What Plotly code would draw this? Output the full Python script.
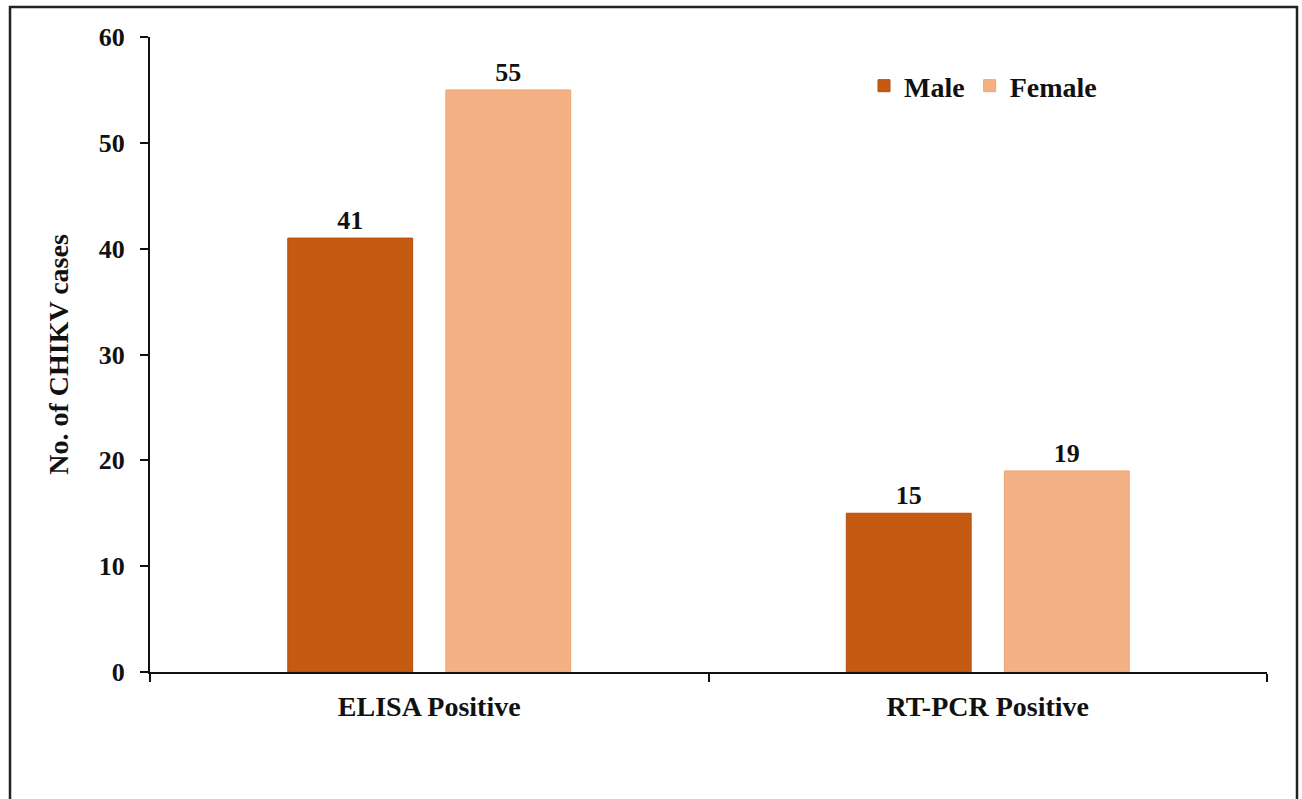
import plotly.graph_objects as go

categories = ["ELISA Positive", "RT-PCR Positive"]
male = [41, 15]
female = [55, 19]
y_ticks = [0, 10, 20, 30, 40, 50, 60]

INK = "#111111"
FAMILY = "Liberation Serif"


def serif(size):
    return dict(family=FAMILY, size=size, color=INK, weight=700)


W, H = 1302, 799
L, R, T, B = 150, 35, 37, 127
pw, ph = W - L - R, H - T - B


def px_x(x):
    return (x - L) / pw


def px_y(y):
    return (H - B - y) / ph


fig = go.Figure()
fig.add_trace(go.Bar(
    name="Male", x=categories, y=male,
    marker=dict(color="#C55A11", line=dict(color="#B24E0C", width=1)),
    text=male, textposition="outside", cliponaxis=False,
    textfont=serif(26),
))
fig.add_trace(go.Bar(
    name="Female", x=categories, y=female,
    marker=dict(color="#F4B183", line=dict(color="#EDA473", width=1)),
    text=female, textposition="outside", cliponaxis=False,
    textfont=serif(26),
))

fig.update_layout(
    width=W, height=H,
    margin=dict(l=L, r=R, t=T, b=B),
    paper_bgcolor="white", plot_bgcolor="white",
    barmode="group", bargap=0.434, bargroupgap=0.21,
    font=serif(26),
    showlegend=True,
    legend=dict(
        orientation="h", x=px_x(864), y=px_y(61), xanchor="left", yanchor="top",
        font=serif(28),
        bgcolor="rgba(0,0,0,0)", itemwidth=30,
    ),
    xaxis=dict(
        showline=True, linecolor=INK, linewidth=2,
        ticks="outside", tickson="boundaries", ticklen=8, tickwidth=2,
        tickcolor=INK, ticklabelstandoff=8,
        tickfont=serif(28),
        showgrid=False, zeroline=False,
    ),
    yaxis=dict(
        range=[0, 60], tickvals=y_ticks,
        showline=True, linecolor=INK, linewidth=2,
        ticks="outside", ticklen=8, tickwidth=2, tickcolor=INK,
        ticklabelstandoff=10,
        tickfont=serif(26),
        showgrid=False, zeroline=False,
        title=dict(text="No. of CHIKV cases", font=serif(28), standoff=22),
    ),
)

# outer frame around the chart
fig.add_shape(
    type="rect", xref="paper", yref="paper",
    x0=px_x(10), x1=px_x(1297), y0=px_y(805), y1=px_y(7),
    line=dict(color="#222222", width=2.5), fillcolor="rgba(0,0,0,0)",
    layer="below",
)

fig.write_html("out.html")
